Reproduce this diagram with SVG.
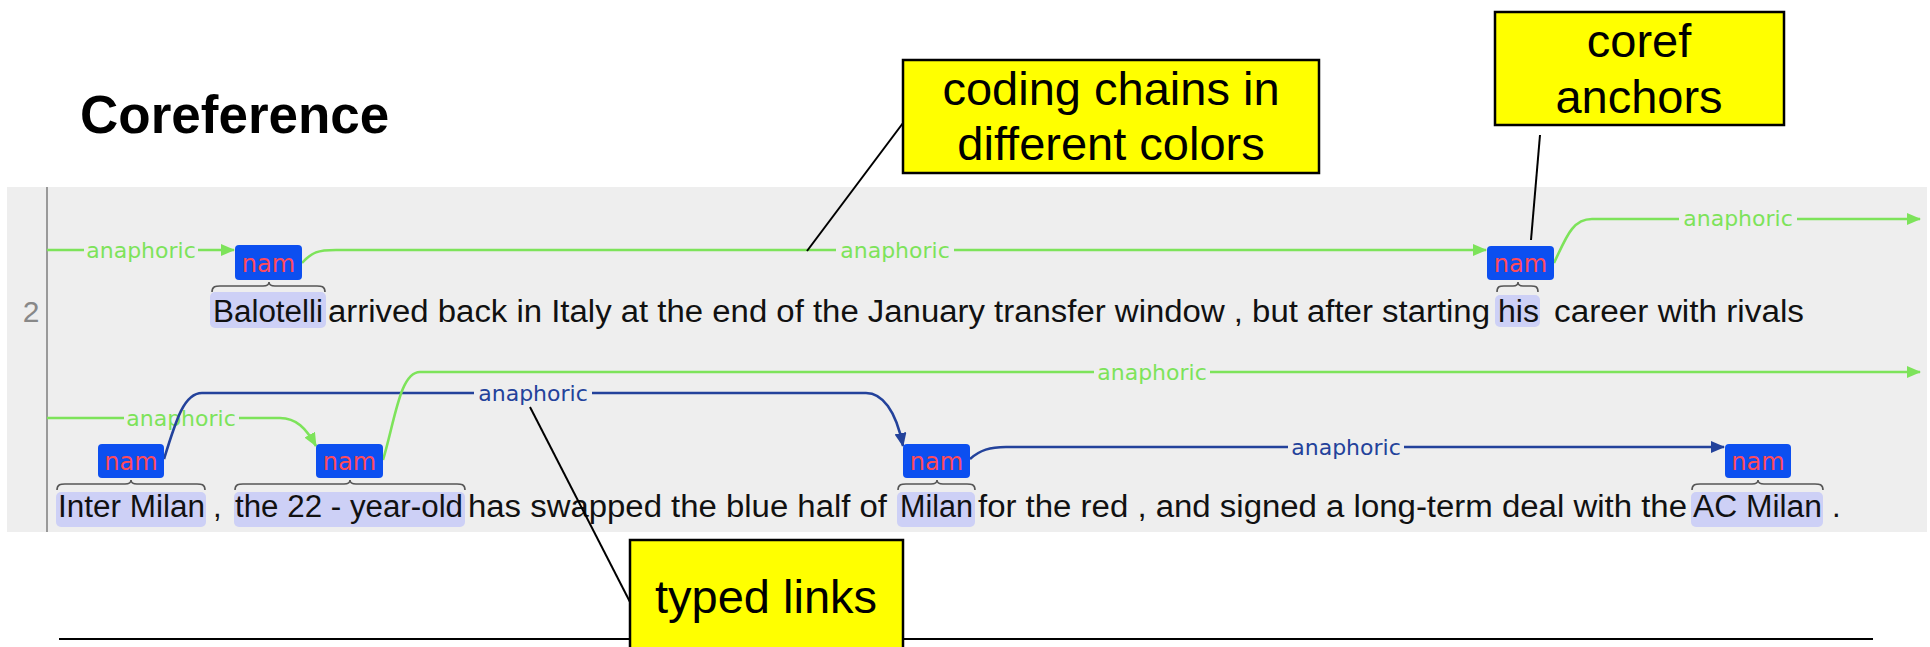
<svg xmlns="http://www.w3.org/2000/svg" width="1930" height="647" viewBox="0 0 1930 647">
<style>
.tok{font-family:"Liberation Sans",Arial,sans-serif;font-size:31px;fill:#111}
.hl{fill:#cdd0f6}
.brace{fill:none;stroke:#555;stroke-width:1.6}
.nambox{fill:#0c4ff0}
.namtxt{font-family:"DejaVu Sans",sans-serif;font-size:24px;fill:#ff4a5a;text-anchor:middle}
.g{fill:none;stroke:#7de35a;stroke-width:2.6}
.b{fill:none;stroke:#23429b;stroke-width:2.6}
.glab{font-family:"DejaVu Sans",sans-serif;font-size:22px;fill:#7de35a;text-anchor:middle}
.blab{font-family:"DejaVu Sans",sans-serif;font-size:22px;fill:#23429b;text-anchor:middle}
.note{fill:#ffff00;stroke:#000;stroke-width:2.5}
.notetxt{font-family:"Liberation Sans",Arial,sans-serif;font-size:47px;fill:#000;text-anchor:middle}
.lead{stroke:#000;stroke-width:2;fill:none}
</style>
<defs>
<marker id="ag" markerUnits="userSpaceOnUse" markerWidth="14" markerHeight="12" refX="13" refY="6" orient="auto"><path d="M0,0 L14,6 L0,12 z" fill="#7de35a"/></marker>
<marker id="ab" markerUnits="userSpaceOnUse" markerWidth="14" markerHeight="12" refX="13" refY="6" orient="auto"><path d="M0,0 L14,6 L0,12 z" fill="#23429b"/></marker>
</defs>
<rect width="1930" height="647" fill="#fff"/>
<text x="80" y="133" font-family="Liberation Sans,Arial,sans-serif" font-size="53" font-weight="bold" fill="#000">Coreference</text>
<g id="panel">
<rect x="7" y="187" width="1920" height="345" fill="#eeeeee"/>
<line x1="47" y1="187" x2="47" y2="532" stroke="#999" stroke-width="2"/>
<text x="31" y="322" font-family="Liberation Sans,Arial,sans-serif" font-size="30" fill="#888" text-anchor="middle">2</text>
</g>
<g id="highlights">
<rect class="hl" x="210" y="292" width="116" height="36" rx="5"/>
<rect class="hl" x="1495" y="295" width="45" height="32" rx="5"/>
<rect class="hl" x="56" y="492" width="150" height="35" rx="5"/>
<rect class="hl" x="234" y="492" width="231" height="35" rx="5"/>
<rect class="hl" x="897" y="492" width="78" height="35" rx="5"/>
<rect class="hl" x="1691" y="492" width="132" height="35" rx="5"/>
</g>
<g id="tokens">
<text class="tok" x="213" y="322" textLength="110" lengthAdjust="spacingAndGlyphs">Balotelli</text>
<text class="tok" x="328" y="322" textLength="1162" lengthAdjust="spacingAndGlyphs">arrived back in Italy at the end of the January transfer window , but after starting</text>
<text class="tok" x="1498" y="322" textLength="41" lengthAdjust="spacingAndGlyphs">his</text>
<text class="tok" x="1554" y="322" textLength="250" lengthAdjust="spacingAndGlyphs">career with rivals</text>
<text class="tok" x="58" y="517" textLength="147" lengthAdjust="spacingAndGlyphs">Inter Milan</text>
<text class="tok" x="213" y="517">,</text>
<text class="tok" x="235" y="517" textLength="228" lengthAdjust="spacingAndGlyphs">the 22 - year-old</text>
<text class="tok" x="468" y="517" textLength="419" lengthAdjust="spacingAndGlyphs">has swapped the blue half of</text>
<text class="tok" x="900" y="517" textLength="73" lengthAdjust="spacingAndGlyphs">Milan</text>
<text class="tok" x="978" y="517" textLength="709" lengthAdjust="spacingAndGlyphs">for the red , and signed a long-term deal with the</text>
<text class="tok" x="1693" y="517" textLength="129" lengthAdjust="spacingAndGlyphs">AC Milan</text>
<text class="tok" x="1832" y="517">.</text>
</g>
<g id="braces">
<path class="brace" d="M212,292 C212,286 216,286 220,286 L263,286 C267,286 269,285 269,282 C269,285 271,286 275,286 L317,286 C321,286 325,286 325,292"/>
<path class="brace" d="M1497,292 C1497,286 1500,286 1504,286 L1513,286 C1516,286 1518,285 1518,282 C1518,285 1520,286 1523,286 L1531,286 C1535,286 1538,286 1538,292"/>
<path class="brace" d="M57,490 C57,484 61,484 65,484 L125,484 C129,484 131,483 131,480 C131,483 133,484 137,484 L197,484 C201,484 205,484 205,490"/>
<path class="brace" d="M235,490 C235,484 239,484 243,484 L344,484 C348,484 350,483 350,480 C350,483 352,484 356,484 L457,484 C461,484 465,484 465,490"/>
<path class="brace" d="M898,490 C898,484 902,484 906,484 L931,484 C935,484 937,483 937,480 C937,483 939,484 943,484 L967,484 C971,484 975,484 975,490"/>
<path class="brace" d="M1692,490 C1692,484 1696,484 1700,484 L1752,484 C1756,484 1758,483 1758,480 C1758,483 1760,484 1764,484 L1815,484 C1819,484 1823,484 1823,490"/>
</g>
<g id="connectors">
<path class="g" d="M47,250 H84"/>
<text class="glab" x="141" y="258">anaphoric</text>
<path class="g" d="M198,250 H234" marker-end="url(#ag)"/>
<path class="g" d="M302,263 C312,252 318,250 336,250 H836"/>
<text class="glab" x="895" y="258">anaphoric</text>
<path class="g" d="M954,250 H1486" marker-end="url(#ag)"/>
<path class="g" d="M1554,263 C1566,238 1572,219 1592,219 H1679"/>
<text class="glab" x="1738" y="226">anaphoric</text>
<path class="g" d="M1797,219 H1920" marker-end="url(#ag)"/>
<path class="g" d="M47,418 H124"/>
<text class="glab" x="181" y="426">anaphoric</text>
<path class="g" d="M239,418 H280 C296,418 306,428 316,446" marker-end="url(#ag)"/>
<path class="b" d="M164,459 C176,420 184,393 202,393 H474"/>
<text class="blab" x="533" y="401">anaphoric</text>
<path class="b" d="M592,393 H866 C882,393 896,410 903,446" marker-end="url(#ab)"/>
<path class="g" d="M383,460 C395,420 400,372 420,372 H1094"/>
<text class="glab" x="1152" y="380">anaphoric</text>
<path class="g" d="M1210,372 H1920" marker-end="url(#ag)"/>
<path class="b" d="M970,459 C980,450 990,447 1006,447 H1288"/>
<text class="blab" x="1346" y="455">anaphoric</text>
<path class="b" d="M1404,447 H1724" marker-end="url(#ab)"/>
</g>
<g id="nam1"><rect class="nambox" x="235" y="245" width="67" height="35" rx="4"/><text class="namtxt" x="268.5" y="272">nam</text></g>
<g id="nam2"><rect class="nambox" x="1487" y="246" width="67" height="34" rx="4"/><text class="namtxt" x="1520.5" y="272">nam</text></g>
<g id="nam3"><rect class="nambox" x="98" y="444" width="66" height="34" rx="4"/><text class="namtxt" x="131" y="470">nam</text></g>
<g id="nam4"><rect class="nambox" x="316" y="444" width="67" height="34" rx="4"/><text class="namtxt" x="349.5" y="470">nam</text></g>
<g id="nam5"><rect class="nambox" x="903" y="444" width="67" height="34" rx="4"/><text class="namtxt" x="936.5" y="470">nam</text></g>
<g id="nam6"><rect class="nambox" x="1725" y="444" width="66" height="34" rx="4"/><text class="namtxt" x="1758" y="470">nam</text></g>
<g id="leaders">
<line class="lead" x1="903" y1="123" x2="807" y2="251"/>
<line class="lead" x1="1540" y1="135" x2="1531" y2="240"/>
<line class="lead" x1="530" y1="407" x2="630" y2="602"/>
<line class="lead" x1="59" y1="639" x2="1873" y2="639"/>
</g>
<g id="note-coding">
<rect class="note" x="903" y="60" width="416" height="113"/>
<text class="notetxt" x="1111" y="105">coding chains in</text>
<text class="notetxt" x="1111" y="160">different colors</text>
</g>
<g id="note-coref">
<rect class="note" x="1495" y="12" width="289" height="113"/>
<text class="notetxt" x="1639" y="57">coref</text>
<text class="notetxt" x="1639" y="113">anchors</text>
</g>
<g id="note-typed">
<rect class="note" x="630" y="540" width="273" height="120"/>
<text class="notetxt" x="766" y="613">typed links</text>
</g>
</svg>
